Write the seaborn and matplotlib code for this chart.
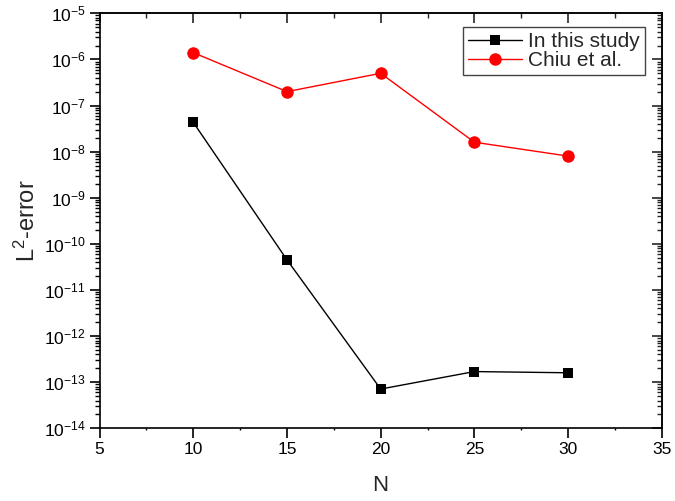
import numpy as np
import pandas as pd
import matplotlib
matplotlib.use('Agg')
import matplotlib.pyplot as plt
import matplotlib.ticker as mticker
import seaborn as sns

# values
N = [10, 15, 20, 25, 30]
err_this_study = [4.3e-8, 4.5e-11, 7.1e-14, 1.7e-13, 1.6e-13]
err_chiu = [1.4e-6, 2.0e-7, 5.0e-7, 1.6e-8, 8.0e-9]

sns.set_style('ticks')
plt.rcParams['font.family'] = ['Liberation Sans', 'DejaVu Sans']
plt.rcParams['mathtext.fontset'] = 'custom'
plt.rcParams['mathtext.rm'] = 'Liberation Sans'
plt.rcParams['mathtext.it'] = 'Liberation Sans'
plt.rcParams['mathtext.default'] = 'regular'

fig = plt.figure(figsize=(6.75, 5.01), dpi=100)
ax = fig.add_axes([0.1476, 0.1451, 0.9803 - 0.1476, 0.9735 - 0.1451])

sns.lineplot(x=N, y=err_this_study, ax=ax, color='black', marker='s',
             markersize=7, markeredgewidth=0, linewidth=1, label='In this study')
sns.lineplot(x=N, y=err_chiu, ax=ax, color='red', marker='o',
             markersize=9, markeredgewidth=0, linewidth=1, label='Chiu et al.')

ax.set_yscale('log')
ax.set_xlim(5, 35)
ax.set_ylim(1e-14, 1e-5)
ax.set_xticks(np.arange(5, 36, 5))
ax.xaxis.set_minor_locator(mticker.MultipleLocator(2.5))
ax.yaxis.set_major_locator(mticker.LogLocator(base=10, numticks=20))
ax.yaxis.set_minor_locator(mticker.LogLocator(base=10, subs=np.arange(2, 10), numticks=20))
ax.yaxis.set_minor_formatter(mticker.NullFormatter())
ax.yaxis.set_major_formatter(mticker.FuncFormatter(
    lambda v, p: '$10^{%d}$' % int(round(np.log10(v)))))

for s in ax.spines.values():
    s.set_linewidth(1.2)
    s.set_color('black')

ax.tick_params(which='major', direction='out', length=7, width=1.2,
               labelsize=12.5, colors='black', pad=3)
ax.tick_params(axis='y', which='minor', direction='out', length=3.8, width=1, colors='black')
ax.tick_params(axis='x', which='minor', direction='out', length=1.5, width=1, colors='black')

# mirrored inward ticks on top and right, no labels
top = ax.secondary_xaxis('top')
top.set_xticks(np.arange(5, 36, 5))
top.xaxis.set_minor_locator(mticker.MultipleLocator(2.5))
top.tick_params(which='major', direction='in', length=7, width=1.2, labeltop=False)
top.tick_params(which='minor', direction='in', length=3.8, width=1)
top.spines['top'].set_linewidth(1.2)

right = ax.secondary_yaxis('right')
right.yaxis.set_major_locator(mticker.LogLocator(base=10, numticks=20))
right.yaxis.set_minor_locator(mticker.LogLocator(base=10, subs=np.arange(2, 10), numticks=20))
right.tick_params(which='major', direction='in', length=7, width=1.2, labelright=False)
right.tick_params(which='minor', direction='in', length=3.8, width=1)
right.spines['right'].set_linewidth(1.2)

ax.set_xlabel('N', fontsize=16, labelpad=12.5)
ax.set_ylabel('L$^2$-error', fontsize=17, labelpad=3)

leg = ax.legend(loc='upper right', bbox_to_anchor=(0.9705, 0.967), fontsize=15,
                frameon=True, fancybox=False, edgecolor='#444444', framealpha=1,
                handlelength=2.6, borderpad=0.25, labelspacing=0.0,
                handletextpad=0.3, borderaxespad=0)
leg.get_frame().set_linewidth(1)

fig.savefig('out.png', dpi=100)
